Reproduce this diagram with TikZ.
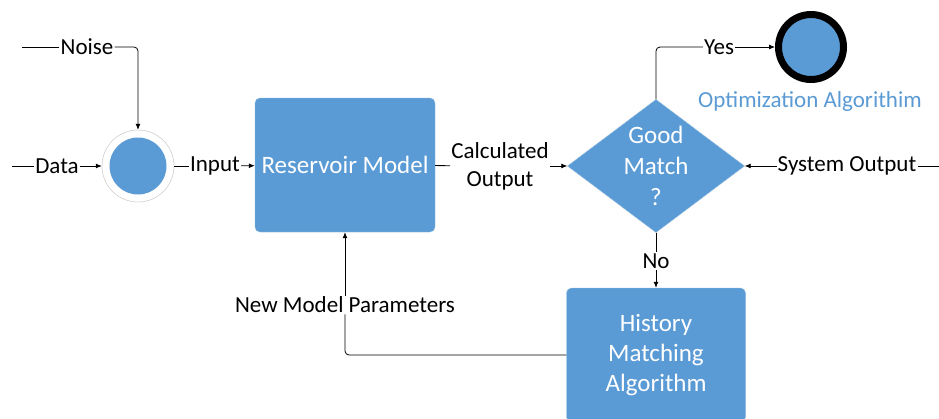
\documentclass[tikz,border=0pt]{standalone}
\usepackage{fontspec}
\setmainfont{Carlito}
\usetikzlibrary{shapes.geometric,arrows.meta}
\definecolor{boxblue}{RGB}{91,155,213}

\tikzset{
	blockbox/.style={draw=boxblue!70!white, fill=boxblue, rounded corners=5pt, text=white,
		align=center, minimum width=180pt, minimum height=134pt,
		font=\fontsize{25}{30}\selectfont},
	decision/.style={diamond, draw=boxblue!70!white, fill=boxblue, text=white, align=center,
		minimum width=177pt, minimum height=133pt, inner sep=-8pt, aspect=1.33,
		font=\fontsize{25}{31}\selectfont},
	lbl/.style={inner sep=1pt, align=center},
	flow/.style={-{Latex[length=6pt,width=5pt]}, line width=0.8pt},
	wire/.style={line width=0.8pt}
}

\begin{document}
\begin{tikzpicture}[x=1pt, y=-1pt, font=\fontsize{23}{28}\selectfont]

	\clip (0,0) rectangle (939,418);
	\fill[white] (0,0) rectangle (939,418);

	\node[blockbox] (reservoir) at (345,165) {Reservoir Model};
	\node[decision] (match) at (656,166) {Good\\Match\\?};
	\node[blockbox, minimum width=179pt] (history) at (656,355) {History\\Matching\\Algorithm};

	\node[circle, draw=black!25, fill=white, minimum size=72pt, inner sep=0pt] (junction) at (138,166) {};
	\node[circle, fill=boxblue, minimum size=57pt, inner sep=0pt] at (junction) {};

	\node[circle, draw=black, line width=7pt, fill=boxblue, minimum size=65pt, inner sep=0pt] (optim) at (811,47) {};
	\node[text=boxblue] (optlabel) at (810,101) {Optimization Algorithim};

	\coordinate (noisein) at (22,47);
	\coordinate (datain) at (12,166);
	\coordinate (sysin) at (939,166);

	\node[lbl] (noise) at (87,47) {Noise};
	\node[lbl] (data) at (57,166) {Data};
	\node[lbl] (input) at (215,166) {Input};
	\node[lbl] (calc) at (500,166) {Calculated\\Output};
	\node[lbl] (yes) at (719,47) {Yes};
	\node[lbl] (sysout) at (847,166) {System Output};
	\node[lbl] (no) at (656,261) {No};
	\node[lbl] (params) at (345,305) {New Model Parameters};

	\draw[wire] (noisein) -- (noise);
	\draw[flow, rounded corners=4pt] (noise) -| (junction);
	\draw[wire] (datain) -- (data);
	\draw[flow] (data) -- (junction);
	\draw[wire] (junction) -- (input);
	\draw[flow] (input) -- (reservoir);
	\draw[wire] (reservoir) -- (calc);
	\draw[flow] (calc) -- (match);
	\draw[wire, rounded corners=4pt] (match.north) |- (yes);
	\draw[flow] (yes) -- (optim);
	\draw[wire] (sysin) -- (sysout);
	\draw[flow] (sysout) -- (match);
	\draw[wire] (match) -- (no);
	\draw[flow] (no) -- (history);
	\draw[wire, rounded corners=4pt] (history.west) -| (params.south);
	\draw[flow] (params.north) -- (reservoir.south);

\end{tikzpicture}
\end{document}
